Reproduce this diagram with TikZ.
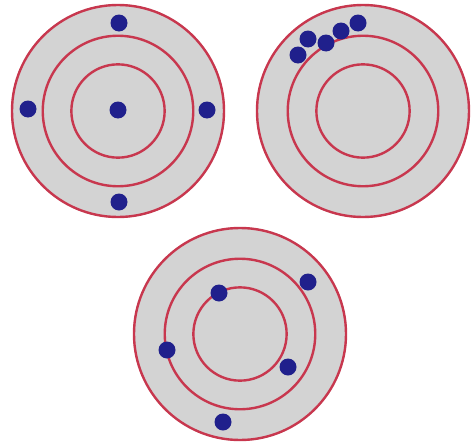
\documentclass[tikz,border=0pt]{standalone}
\definecolor{ringred}{RGB}{200,55,78}
\definecolor{board}{RGB}{211,211,211}
\definecolor{shot}{RGB}{32,32,140}
\begin{document}
\begin{tikzpicture}[x=1pt,y=-1pt,declare function={r=106;}]
	\useasboundingbox (0,0) rectangle (471,447);
	\path (118,111) coordinate (T1)
	(363,111) coordinate (T2)
	(240,334) coordinate (T3);
	\foreach \t in {T1,T2,T3}{
		\fill[board] (\t) circle ({r+1});
		\foreach \k in {1,0.71,0.44}{
			\draw[ringred,line width=2.4] (\t) circle ({\k*r});
		}
	}
	% hits
	\foreach \x/\y in {118/110,119/23,28/109,207/110,119/202,
		298/55,308/39,326/43,341/31,358/23,
		219/293,308/282,167/350,288/367,223/422}{
		\fill[shot] (\x,\y) circle (8.5);
	}
\end{tikzpicture}
\end{document}
